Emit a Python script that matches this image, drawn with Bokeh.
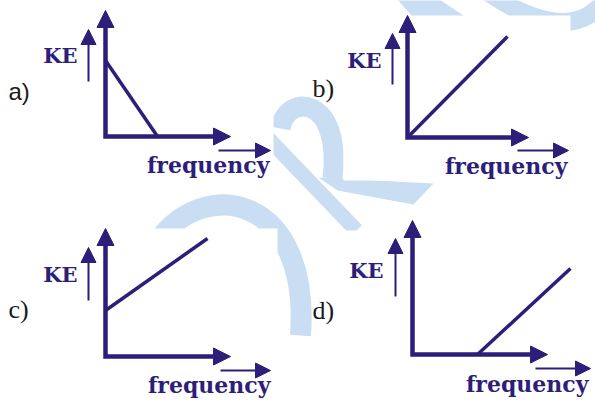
from bokeh.plotting import figure
from bokeh.models import Range1d, Arrow, NormalHead, ColumnDataSource
from bokeh.core.properties import value
from bokeh.embed import file_html
from bokeh.resources import INLINE

# ---------------- data ----------------
panel_labels = ["a)", "b)", "c)", "d)"]
y_title = "KE"
x_title = "frequency"
# the straight KE-vs-frequency line drawn in each panel (axis units, px from the origin)
line_freq_start = [0, 0, 0, 65]
line_ke_start = [76, 0, 46, 0]
line_freq_end = [52, 100, 102, 158]
line_ke_end = [0, 101, 118, 86]

# ---------------- layout ----------------
NAVY = "#2d1e7a"
WM = "#c9def3"
origin_x = [105, 407, 105, 412]
origin_y = [136, 137, 356, 354]
axis_len_x = [125, 121, 125, 135]
axis_len_y = [126, 122, 128, 134]
label_x = [8, 312, 8, 312]
label_y = [91, 88, 309, 310]
label_font = ["Liberation Sans", "Liberation Serif", "Liberation Serif", "Liberation Serif"]
label_size = ["24px", "26px", "26px", "26px"]
ke_text_x = [77, 381, 77, 383]
ke_text_y = [55, 60, 274, 270]
ke_arrow_x = [88, 392, 88, 395]
ke_arrow_y0 = [81, 84, 300, 296]
ke_arrow_y1 = [29, 33, 247, 238]
fr_text_x = [269, 567, 270, 588]
fr_text_y = [164, 165, 384, 383]
fr_arrow_y = [150, 150, 370, 368]
fr_arrow_x0 = [218, 517, 220, 535]
fr_arrow_x1 = [270, 568, 270, 590]

p = figure(width=595, height=401, x_range=Range1d(0, 595), y_range=Range1d(401, 0),
           output_backend="svg", toolbar_location=None, min_border=0)
p.axis.visible = False
p.grid.visible = False
p.outline_line_color = None
p.background_fill_color = "white"
p.border_fill_color = "white"

# ---------------- faint watermark ----------------
p.patch([395, 436, 466, 413], [-3, -3, 17, 17], color=WM, line_width=0)
p.bezier(x0=[485], y0=[-10], cx0=[520], cy0=[15], cx1=[570], cy1=[38], x1=[600], y1=[5],
         line_color=WM, line_width=18)
p.bezier(x0=[280], y0=[128], cx0=[286], cy0=[92], cx1=[342], cy1=[95], x1=[332], y1=[178],
         line_color=WM, line_width=20)
p.patch([318, 433, 413, 337], [177, 183, 204, 190], color=WM, line_width=0)
p.line([262, 356], [132, 230], line_color=WM, line_width=15)
p.bezier(x0=[158], y0=[240], cx0=[205], cy0=[175], cx1=[310], cy1=[195], x1=[300], y1=[335],
         line_color=WM, line_width=21)
# white backgrounds of the four sketches
p.quad(left=[0, 343, 0, 345], right=[273, 570, 277, 600], top=[0, 15, 228, 230],
       bottom=[185, 180, 405, 405], color="white", line_width=0)

# ---------------- panels ----------------
for i in range(4):
    ox, oy, lx, ly = origin_x[i], origin_y[i], axis_len_x[i], axis_len_y[i]
    # axes (L shape)
    p.line([ox, ox, ox + lx - 8], [oy - ly + 8, oy, oy], line_color=NAVY,
           line_width=4.5, line_join="miter")
    # data line
    p.segment(x0=[ox + line_freq_start[i]], y0=[oy - line_ke_start[i]],
              x1=[ox + line_freq_end[i]], y1=[oy - line_ke_end[i]],
              line_color=NAVY, line_width=3.5)
    # small direction arrows
    p.segment(x0=[ke_arrow_x[i]], y0=[ke_arrow_y0[i]], x1=[ke_arrow_x[i]], y1=[ke_arrow_y1[i] + 7],
              line_color=NAVY, line_width=2)
    p.segment(x0=[fr_arrow_x0[i]], y0=[fr_arrow_y[i]], x1=[fr_arrow_x1[i] - 7], y1=[fr_arrow_y[i]],
              line_color=NAVY, line_width=2)

big_heads = ColumnDataSource(dict(
    xs=origin_x + [ox + lx - 4 for ox, lx in zip(origin_x, axis_len_x)],
    ys=[oy - ly + 4 for oy, ly in zip(origin_y, axis_len_y)] + origin_y,
    xe=origin_x + [ox + lx for ox, lx in zip(origin_x, axis_len_x)],
    ye=[oy - ly for oy, ly in zip(origin_y, axis_len_y)] + origin_y,
))
p.add_layout(Arrow(end=NormalHead(size=17, fill_color=NAVY, line_color=NAVY, line_width=1),
                   x_start="xs", y_start="ys", x_end="xe", y_end="ye",
                   source=big_heads, line_alpha=0))
small_heads = ColumnDataSource(dict(
    xs=ke_arrow_x + [x - 4 for x in fr_arrow_x1],
    ys=[y + 4 for y in ke_arrow_y1] + fr_arrow_y,
    xe=ke_arrow_x + fr_arrow_x1,
    ye=ke_arrow_y1 + fr_arrow_y,
))
p.add_layout(Arrow(end=NormalHead(size=15, fill_color=NAVY, line_color=NAVY, line_width=1),
                   x_start="xs", y_start="ys", x_end="xe", y_end="ye",
                   source=small_heads, line_alpha=0))

# texts
p.text(x=ke_text_x, y=ke_text_y, text=[y_title] * 4, text_font=value("DejaVu Serif"),
       text_font_style="bold", text_font_size="21px", text_color=NAVY,
       text_align="right", text_baseline="alphabetic")
p.text(x=fr_text_x, y=fr_text_y, text=[x_title] * 4, text_font=value("DejaVu Serif"),
       text_font_style="bold", text_font_size="22px", text_color=NAVY,
       text_align="right", text_baseline="alphabetic")
for i in range(4):
    p.text(x=[label_x[i]], y=[label_y[i]], text=[panel_labels[i]],
           text_font=value(label_font[i]), text_font_size=label_size[i],
           text_color="#1a1a1a", text_align="left", text_baseline="alphabetic")

open("out.html", "w").write(file_html(p, INLINE))
